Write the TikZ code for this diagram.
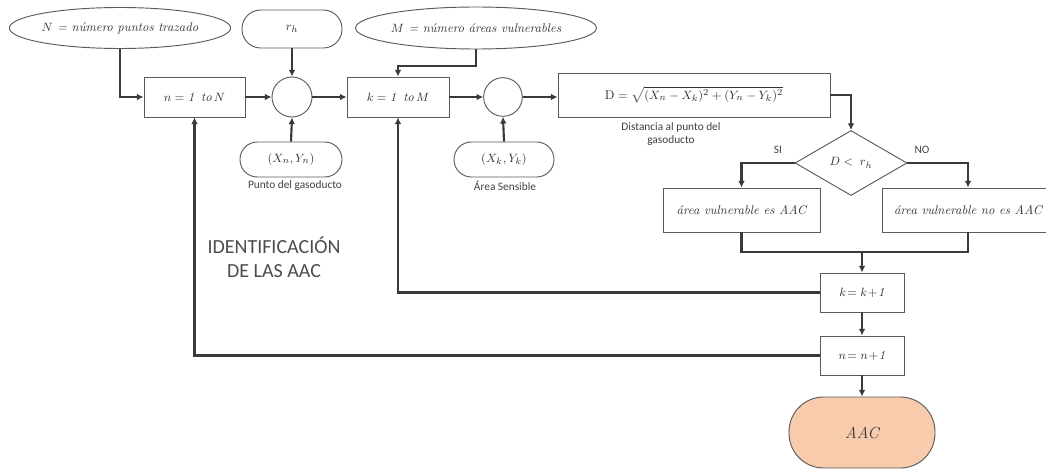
\documentclass[tikz,border=0pt]{standalone}
\usepackage{fontspec}
\newfontfamily\calibrifont{Carlito}
\usetikzlibrary{shapes.geometric,arrows.meta}
\definecolor{bordc}{HTML}{5A5A5A}
\definecolor{linec}{HTML}{3A3A3A}
\definecolor{peach}{HTML}{F8CBAD}
\tikzset{
  base/.style={draw=bordc, line width=0.7pt, fill=white, inner sep=0pt, font=\fontsize{9.5}{11}\selectfont\itshape, text=black!80},
  procbox/.style={base, rectangle},
  ovalnode/.style={base, ellipse},
  stadium/.style={base, rectangle, rounded corners=#1},
  junction/.style={base, circle},
  decision/.style={base, diamond, aspect=1.7},
  conn/.style={draw=linec, line width=1.6pt, -{Latex[length=5pt,width=5pt]}},
  plain/.style={draw=linec, line width=1.6pt},
  note/.style={font=\calibrifont\fontsize{8.5}{9.5}\selectfont, text=black!75, align=center},
}
\begin{document}
\begin{tikzpicture}[x=0.75pt,y=-0.75pt]
\useasboundingbox (0,0) rectangle (1046,470);
% top inputs
\node[ovalnode, minimum width=165pt, minimum height=30.75pt] (N) at (120,28) {$N$ = número puntos trazado};
\node[stadium=14pt, minimum width=75pt, minimum height=28.5pt] (rh) at (292,29) {$r_h$};
\node[ovalnode, minimum width=177pt, minimum height=31.5pt] (M) at (476,28) {$M$ = número áreas vulnerables};
% main row
\node[procbox, minimum width=75.75pt, minimum height=30pt] (nbox) at (194.5,97) {$n = \mathit{1}\;\;\mathit{to}\,N$};
\node[junction, minimum size=30pt] (c1) at (292,97) {};
\node[procbox, minimum width=76.5pt, minimum height=30pt] (kbox) at (398,97) {$k = \mathit{1}\;\;\mathit{to}\,M$};
\node[junction, minimum size=29pt] (c2) at (503,97) {};
\node[procbox, minimum width=204pt, minimum height=33pt, font=\fontsize{9.5}{11}\selectfont] (D) at (694,95) {$\mathrm{D}=\sqrt{(X_n-X_k)^2+(Y_n-Y_k)^2}$};
% bottom inputs
\node[stadium=13pt, minimum width=76.5pt, minimum height=26.25pt] (Xn) at (291,159.5) {$(X_n,Y_n)$};
\node[stadium=13pt, minimum width=75pt, minimum height=26.25pt] (Xk) at (504,159.5) {$(X_k,Y_k)$};
\node[note] (lXn) at (295,186) {Punto del gasoducto};
\node[note] (lXk) at (505,186) {Área Sensible};
\node[note] (lD) at (671,134) {Distancia al punto del\\gasoducto};
% decision
\node[decision, minimum width=84pt, minimum height=48.75pt] (dia) at (851,163) {$D<\;r_h$};
\node[note] (si) at (778,150) {SI};
\node[note] (no) at (922,150) {NO};
\node[procbox, minimum width=117.75pt, minimum height=33pt] (es) at (741.5,210) {área vulnerable es AAC};
\node[procbox, minimum width=129pt, minimum height=33pt] (noes) at (968,210) {área vulnerable no es AAC};
% counters and end
\node[procbox, minimum width=63pt, minimum height=29.25pt] (kk) at (862,292.5) {$k\!=k\!+\!\mathit{1}$};
\node[procbox, minimum width=63pt, minimum height=29.25pt] (nn) at (862,355.5) {$n\!=n\!+\!\mathit{1}$};
\node[stadium=26pt, fill=peach, minimum width=109.5pt, minimum height=53.25pt, font=\fontsize{12}{14}\selectfont\itshape] (aac) at (862,432.5) {AAC};
% title
\node[note, font=\calibrifont\fontsize{15}{18}\selectfont, text=black!70] (title) at (274,257) {IDENTIFICACIÓN\\DE LAS AAC};
% connectors
\coordinate (mbend) at (476,66);
\coordinate (mrg) at (862,252);
\draw[conn] (N.south) |- (nbox.west);
\draw[conn] (rh.south) -- (c1.north);
\draw[conn] (Xn.north) -- (c1.south);
\draw[conn] (nbox.east) -- (c1.west);
\draw[conn] (c1.east) -- (kbox.west);
\draw[conn] (M.south) -- (M.south |- mbend) -| (kbox.north);
\draw[conn] (kbox.east) -- (c2.west);
\draw[conn] (c2.east) -- (c2.east -| D.west);
\draw[conn] (Xk.north) -- (c2.south);
\draw[conn] (D.east) -| (dia.north);
\draw[conn] (dia.west) -| (es.north);
\draw[conn] (dia.east) -| (noes.north);
\draw[plain] (es.south) -- (es.south |- mrg) -- (noes.south |- mrg) -- (noes.south);
\draw[conn] (mrg) -- (kk.north);
\draw[conn] (kk.south) -- (nn.north);
\draw[conn] (nn.south) -- (aac.north);
\draw[conn] (kk.west) -| (kbox.south);
\draw[conn] (nn.west) -| (nbox.south);
\end{tikzpicture}
\end{document}
